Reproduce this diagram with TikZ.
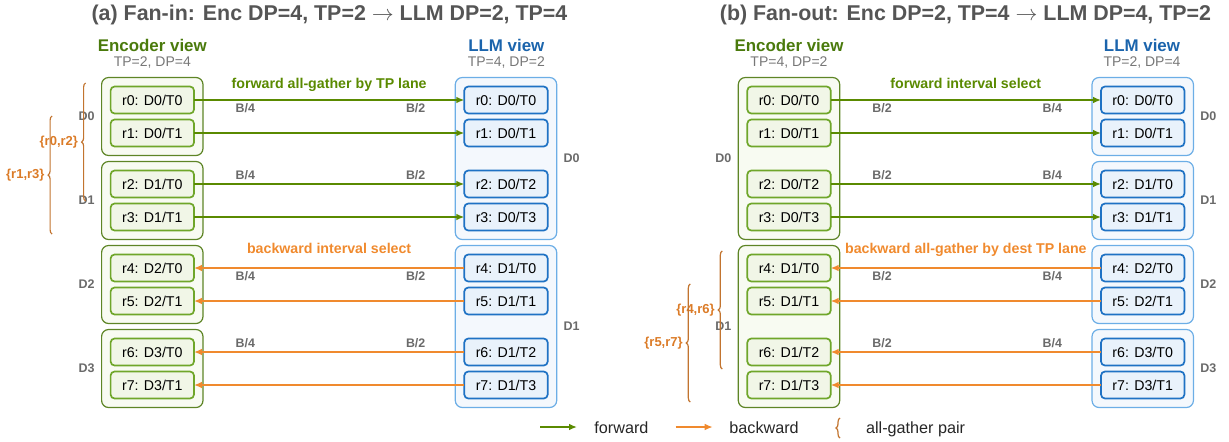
\documentclass[tikz,border=0pt]{standalone}
\usepackage{fontspec}
\setmainfont{Liberation Sans}
\usepackage{tikz}
\usetikzlibrary{positioning, arrows.meta, fit, backgrounds, calc, decorations.pathreplacing}
\usepackage{xcolor}
\definecolor{encdark}{HTML}{4A7A0C}
\definecolor{encline}{HTML}{5E8526}
\definecolor{encrankline}{HTML}{6FA62A}
\definecolor{encfill}{HTML}{F8FBF2}
\definecolor{encrankfill}{HTML}{F1F6E7}
\definecolor{llmdark}{HTML}{1B64AC}
\definecolor{llmline}{HTML}{6CAEE6}
\definecolor{llmrankline}{HTML}{1F72C4}
\definecolor{llmfill}{HTML}{F4F8FD}
\definecolor{llmrankfill}{HTML}{E9F2FB}
\definecolor{fwdgreen}{HTML}{5A8A00}
\definecolor{bwdorange}{HTML}{F08A2E}
\definecolor{pairbrown}{HTML}{C2742F}
\definecolor{pairorange}{HTML}{DB7B27}
\definecolor{titlegray}{HTML}{555555}
\definecolor{subgray}{HTML}{777777}
\definecolor{taggray}{HTML}{6A6A6A}
\tikzset{
  rsrank/.style    = {draw, rounded corners=2pt, minimum width=41.7pt,
                      minimum height=13.5pt, inner sep=1pt, outer sep=0pt,
                      line width=0.85pt, font=\fontsize{7.1}{8}\selectfont},
  rsenc/.style     = {rsrank, draw=encrankline, fill=encrankfill},
  rsllm/.style     = {rsrank, draw=llmrankline, fill=llmrankfill},
  rsgrp/.style     = {draw, rounded corners=3.5pt, inner sep=4.5pt, outer sep=0pt,
                      line width=0.6pt},
  rsencgrp/.style  = {rsgrp, draw=encline, fill=encfill},
  rsllmgrp/.style  = {rsgrp, draw=llmline, fill=llmfill},
  rsfwd/.style     = {draw=fwdgreen, line width=1pt, -{Latex[length=4pt,width=3.4pt]}},
  rsbwd/.style     = {rsfwd, draw=bwdorange},
  rstitle/.style   = {anchor=base, inner sep=0pt, text=titlegray,
                      font=\fontsize{10.7}{12}\selectfont\bfseries},
  rsenchead/.style = {anchor=base, inner sep=0pt, text=encdark,
                      font=\fontsize{8.45}{10}\selectfont\bfseries},
  rsllmhead/.style = {rsenchead, text=llmdark},
  rssub/.style     = {anchor=base, inner sep=0pt, text=subgray, font=\fontsize{7}{8}\selectfont},
  rsflow/.style    = {anchor=base, inner sep=0pt, font=\fontsize{7.1}{8}\selectfont\bfseries},
  rsbw/.style      = {anchor=base, inner sep=0pt, text=taggray,
                      font=\fontsize{6.2}{7}\selectfont\bfseries},
  rsdp/.style      = {inner sep=0pt, text=taggray, font=\fontsize{6.25}{7}\selectfont\bfseries},
  rsbrace/.style   = {draw=pairbrown, line width=0.6pt, decorate,
                      decoration={brace, amplitude=2pt}},
  rspair/.style    = {inner sep=0pt, text=pairorange, font=\fontsize{6.5}{7}\selectfont\bfseries},
  rslegend/.style  = {anchor=base west, inner sep=0pt, text=black!85,
                      font=\fontsize{8.1}{9}\selectfont}
}
\begin{document}
\begin{tikzpicture}[x=0.5pt, y=-0.5pt]
  \useasboundingbox (0,0) rectangle (1229,441);

  % (a) fan-in
  \node[rstitle] (titlea) at (329.5,20.7)
        {(a) Fan-in: Enc DP=4, TP=2 $\rightarrow$ LLM DP=2, TP=4};
  \node[rsenchead] (encheada) at (152.3,51.7) {Encoder view};
  \node[rssub]     (encsuba)  at (152.3,66)   {TP=2, DP=4};
  \node[rsllmhead] (llmheada) at (506.3,51.7) {LLM view};
  \node[rssub]     (llmsuba)  at (506.3,66)   {TP=4, DP=2};

  \node[rsenc] (ea0) at (152.3,100)     {r0: D0/T0};
  \node[rsenc, below=3pt of ea0]  (ea1) {r1: D0/T1};
  \node[rsenc, below=12pt of ea1] (ea2) {r2: D1/T0};
  \node[rsenc, below=3pt of ea2]  (ea3) {r3: D1/T1};
  \node[rsenc, below=12pt of ea3] (ea4) {r4: D2/T0};
  \node[rsenc, below=3pt of ea4]  (ea5) {r5: D2/T1};
  \node[rsenc, below=12pt of ea5] (ea6) {r6: D3/T0};
  \node[rsenc, below=3pt of ea6]  (ea7) {r7: D3/T1};

  \node[rsllm, right=135.15pt of ea0] (la0) {r0: D0/T0};
  \node[rsllm, right=135.15pt of ea1] (la1) {r1: D0/T1};
  \node[rsllm, right=135.15pt of ea2] (la2) {r2: D0/T2};
  \node[rsllm, right=135.15pt of ea3] (la3) {r3: D0/T3};
  \node[rsllm, right=135.15pt of ea4] (la4) {r4: D1/T0};
  \node[rsllm, right=135.15pt of ea5] (la5) {r5: D1/T1};
  \node[rsllm, right=135.15pt of ea6] (la6) {r6: D1/T2};
  \node[rsllm, right=135.15pt of ea7] (la7) {r7: D1/T3};

  \begin{scope}[on background layer]
    \node[rsencgrp, fit=(ea0)(ea1)] (gea0) {};
    \node[rsencgrp, fit=(ea2)(ea3)] (gea1) {};
    \node[rsencgrp, fit=(ea4)(ea5)] (gea2) {};
    \node[rsencgrp, fit=(ea6)(ea7)] (gea3) {};
    \node[rsllmgrp, fit=(la0)(la3)] (gla0) {};
    \node[rsllmgrp, fit=(la4)(la7)] (gla1) {};
  \end{scope}

  \node[rsdp, left=3.3pt of gea0]  (dea0) {D0};
  \node[rsdp, left=3.3pt of gea1]  (dea1) {D1};
  \node[rsdp, left=3.3pt of gea2]  (dea2) {D2};
  \node[rsdp, left=3.3pt of gea3]  (dea3) {D3};
  \node[rsdp, right=3.3pt of gla0] (dla0) {D0};
  \node[rsdp, right=3.3pt of gla1] (dla1) {D1};

  \draw[rsfwd] (ea0) -- node[rsflow, text=fwdgreen, yshift=5.75pt] {forward all-gather by TP lane}
                        node[rsbw, pos=.19, yshift=-6.4pt] {B/4}
                        node[rsbw, pos=.82, yshift=-6.4pt] {B/2} (la0);
  \draw[rsfwd] (ea1) -- (la1);
  \draw[rsfwd] (ea2) -- node[rsbw, pos=.19, yshift=2.35pt] {B/4}
                        node[rsbw, pos=.82, yshift=2.35pt] {B/2} (la2);
  \draw[rsfwd] (ea3) -- (la3);
  \draw[rsbwd] (la4) -- node[rsflow, text=bwdorange, yshift=7.25pt] {backward interval select}
                        node[rsbw, pos=.18, yshift=-6.4pt] {B/2}
                        node[rsbw, pos=.81, yshift=-6.4pt] {B/4} (ea4);
  \draw[rsbwd] (la5) -- (ea5);
  \draw[rsbwd] (la6) -- node[rsbw, pos=.18, yshift=2.35pt] {B/2}
                        node[rsbw, pos=.81, yshift=2.35pt] {B/4} (ea6);
  \draw[rsbwd] (la7) -- (ea7);

  \draw[rsbrace] ($(gea0.west |- ea2.south)+(-16,3.5)$)
        -- node[rspair, left=3.5pt] {\{r0,r2\}} ($(gea0.west |- ea0.north)+(-16,-3.5)$);
  \draw[rsbrace] ($(gea0.west |- ea3.south)+(-49.5,3.5)$)
        -- node[rspair, left=3.5pt] {\{r1,r3\}} ($(gea0.west |- ea1.north)+(-49.5,-3.5)$);

  % (b) fan-out
  \node[rstitle] (titleb) at (965.5,20.7)
        {(b) Fan-out: Enc DP=2, TP=4 $\rightarrow$ LLM DP=4, TP=2};
  \node[rsenchead] (encheadb) at (789,51.7)  {Encoder view};
  \node[rssub]     (encsubb)  at (789,66)    {TP=4, DP=2};
  \node[rsllmhead] (llmheadb) at (1142,51.7) {LLM view};
  \node[rssub]     (llmsubb)  at (1142,66)   {TP=2, DP=4};

  \node[rsenc] (eb0) at (789,100)       {r0: D0/T0};
  \node[rsenc, below=3pt of eb0]  (eb1) {r1: D0/T1};
  \node[rsenc, below=12pt of eb1] (eb2) {r2: D0/T2};
  \node[rsenc, below=3pt of eb2]  (eb3) {r3: D0/T3};
  \node[rsenc, below=12pt of eb3] (eb4) {r4: D1/T0};
  \node[rsenc, below=3pt of eb4]  (eb5) {r5: D1/T1};
  \node[rsenc, below=12pt of eb5] (eb6) {r6: D1/T2};
  \node[rsenc, below=3pt of eb6]  (eb7) {r7: D1/T3};

  \node[rsllm, right=135.15pt of eb0] (lb0) {r0: D0/T0};
  \node[rsllm, right=135.15pt of eb1] (lb1) {r1: D0/T1};
  \node[rsllm, right=135.15pt of eb2] (lb2) {r2: D1/T0};
  \node[rsllm, right=135.15pt of eb3] (lb3) {r3: D1/T1};
  \node[rsllm, right=135.15pt of eb4] (lb4) {r4: D2/T0};
  \node[rsllm, right=135.15pt of eb5] (lb5) {r5: D2/T1};
  \node[rsllm, right=135.15pt of eb6] (lb6) {r6: D3/T0};
  \node[rsllm, right=135.15pt of eb7] (lb7) {r7: D3/T1};

  \begin{scope}[on background layer]
    \node[rsencgrp, fit=(eb0)(eb3)] (geb0) {};
    \node[rsencgrp, fit=(eb4)(eb7)] (geb1) {};
    \node[rsllmgrp, fit=(lb0)(lb1)] (glb0) {};
    \node[rsllmgrp, fit=(lb2)(lb3)] (glb1) {};
    \node[rsllmgrp, fit=(lb4)(lb5)] (glb2) {};
    \node[rsllmgrp, fit=(lb6)(lb7)] (glb3) {};
  \end{scope}

  \node[rsdp, left=3.3pt of geb0]  (deb0) {D0};
  \node[rsdp, left=3.3pt of geb1]  (deb1) {D1};
  \node[rsdp, right=3.3pt of glb0] (dlb0) {D0};
  \node[rsdp, right=3.3pt of glb1] (dlb1) {D1};
  \node[rsdp, right=3.3pt of glb2] (dlb2) {D2};
  \node[rsdp, right=3.3pt of glb3] (dlb3) {D3};

  \draw[rsfwd] (eb0) -- node[rsflow, text=fwdgreen, yshift=5.75pt] {forward interval select}
                        node[rsbw, pos=.19, yshift=-6.4pt] {B/2}
                        node[rsbw, pos=.82, yshift=-6.4pt] {B/4} (lb0);
  \draw[rsfwd] (eb1) -- (lb1);
  \draw[rsfwd] (eb2) -- node[rsbw, pos=.19, yshift=2.35pt] {B/2}
                        node[rsbw, pos=.82, yshift=2.35pt] {B/4} (lb2);
  \draw[rsfwd] (eb3) -- (lb3);
  \draw[rsbwd] (lb4) -- node[rsflow, text=bwdorange, yshift=7.25pt] {backward all-gather by dest TP lane}
                        node[rsbw, pos=.18, yshift=-6.4pt] {B/4}
                        node[rsbw, pos=.81, yshift=-6.4pt] {B/2} (eb4);
  \draw[rsbwd] (lb5) -- (eb5);
  \draw[rsbwd] (lb6) -- node[rsbw, pos=.18, yshift=2.35pt] {B/4}
                        node[rsbw, pos=.81, yshift=2.35pt] {B/2} (eb6);
  \draw[rsbwd] (lb7) -- (eb7);

  \draw[rsbrace] ($(geb1.west |- eb6.south)+(-16,3.5)$)
        -- node[rspair, left=3.5pt] {\{r4,r6\}} ($(geb1.west |- eb4.north)+(-16,-3.5)$);
  \draw[rsbrace] ($(geb1.west |- eb7.south)+(-48,3.5)$)
        -- node[rspair, left=3.5pt] {\{r5,r7\}} ($(geb1.west |- eb5.north)+(-48,-3.5)$);

  % legend
  \coordinate (lgfs) at (540,427);
  \coordinate (lgfe) at (577,427);
  \coordinate (lgbs) at (675.7,427);
  \coordinate (lgbe) at (712.7,427);
  \coordinate (lgpb) at (840,438);
  \coordinate (lgpt) at (840,418);
  \draw[rsfwd] (lgfs) -- (lgfe);
  \node[rslegend] (lgf) at (594,433)   {forward};
  \draw[rsbwd] (lgbs) -- (lgbe);
  \node[rslegend] (lgb) at (729,433)   {backward};
  \draw[rsbrace] (lgpb) -- (lgpt);
  \node[rslegend] (lgp) at (865.7,433) {all-gather pair};
\end{tikzpicture}
\end{document}
